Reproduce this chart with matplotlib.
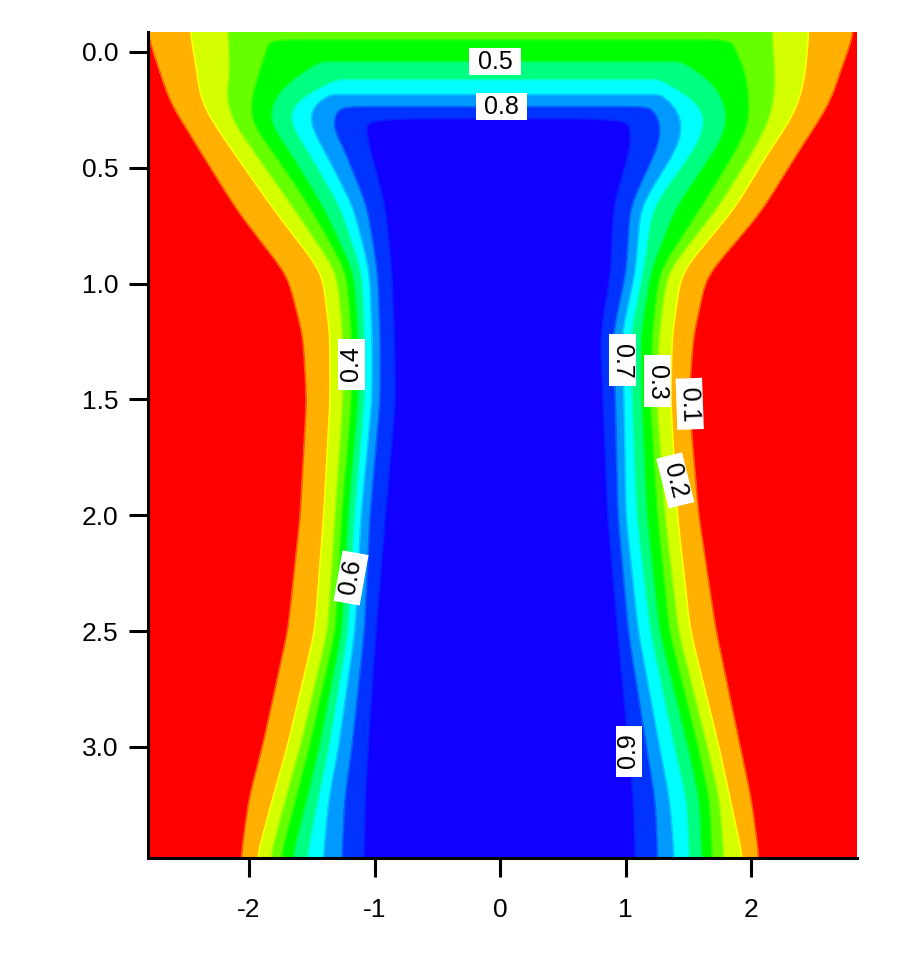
import numpy as np
import matplotlib
matplotlib.use('Agg')
import matplotlib.pyplot as plt

plt.rcParams['font.family'] = ['Liberation Sans', 'DejaVu Sans']
plt.rcParams['axes.unicode_minus'] = False

# contour levels and the fill colour of each band (below 0.1 ... above 0.9)
levels = [0.1, 0.2, 0.3, 0.4, 0.5, 0.6, 0.7, 0.8, 0.9]
band_colors = ['#ff0000', '#ffb000', '#d4ff00', '#66ff00', '#00ff00',
               '#00ff80', '#00ffff', '#0099ff', '#0033ff', '#1000ff']
line_colors = ['#ff5a00', '#ffff00', '#a0ff00', '#33ff00', '#00ff40',
               '#00ffc0', '#00ccff', '#0066ff', '#0820ff']

depths = [-0.09, 0.1, 0.2, 0.3, 0.4, 0.67, 0.95, 1.22, 1.5, 2.0, 2.5, 3.0, 3.23, 3.48]

# x of each level (0.1 ... 0.9) on the left flank, one row per depth
left_edges = [
    [-2.79, -2.47, -2.17, -1.82, -0.96, -0.80, -0.72, -0.64, -0.56],
    [-2.67, -2.41, -2.15, -1.93, -1.63, -1.12, -1.00, -0.89, -0.80],
    [-2.61, -2.39, -2.19, -1.98, -1.81, -1.65, -1.50, -1.24, -0.96],
    [-2.49, -2.29, -2.13, -1.99, -1.85, -1.69, -1.53, -1.37, -1.10],
    [-2.38, -2.16, -2.00, -1.85, -1.71, -1.56, -1.43, -1.26, -1.06],
    [-2.07, -1.81, -1.65, -1.51, -1.41, -1.27, -1.17, -1.06, -0.93],
    [-1.67, -1.41, -1.30, -1.22, -1.17, -1.10, -1.04, -0.98, -0.88],
    [-1.54, -1.35, -1.25, -1.18, -1.13, -1.08, -1.02, -0.96, -0.86],
    [-1.51, -1.35, -1.25, -1.18, -1.13, -1.08, -1.02, -0.96, -0.85],
    [-1.56, -1.40, -1.31, -1.26, -1.21, -1.16, -1.11, -1.04, -0.93],
    [-1.66, -1.47, -1.37, -1.31, -1.26, -1.21, -1.16, -1.08, -1.01],
    [-1.86, -1.69, -1.59, -1.52, -1.44, -1.36, -1.29, -1.18, -1.07],
    [-1.97, -1.81, -1.71, -1.63, -1.54, -1.45, -1.37, -1.24, -1.09],
    [-2.03, -1.94, -1.83, -1.75, -1.66, -1.54, -1.41, -1.26, -1.10],
]

# same for the right flank
right_edges = [
    [2.80, 2.46, 2.17, 1.82, 0.96, 0.80, 0.72, 0.64, 0.56],
    [2.67, 2.43, 2.19, 1.97, 1.65, 1.12, 1.00, 0.89, 0.80],
    [2.61, 2.39, 2.19, 1.98, 1.78, 1.57, 1.37, 1.16, 0.92],
    [2.49, 2.31, 2.14, 1.99, 1.82, 1.65, 1.46, 1.30, 1.05],
    [2.37, 2.17, 2.05, 1.91, 1.74, 1.57, 1.43, 1.27, 1.06],
    [2.06, 1.87, 1.74, 1.61, 1.40, 1.21, 1.12, 1.04, 0.92],
    [1.62, 1.44, 1.33, 1.27, 1.20, 1.14, 1.08, 1.01, 0.90],
    [1.51, 1.37, 1.26, 1.22, 1.12, 1.04, 0.97, 0.90, 0.82],
    [1.47, 1.36, 1.24, 1.20, 1.13, 1.05, 0.99, 0.92, 0.84],
    [1.55, 1.41, 1.31, 1.26, 1.17, 1.09, 1.00, 0.94, 0.88],
    [1.69, 1.51, 1.42, 1.35, 1.27, 1.20, 1.10, 1.02, 0.96],
    [1.88, 1.74, 1.65, 1.58, 1.50, 1.39, 1.27, 1.17, 1.04],
    [1.97, 1.83, 1.75, 1.67, 1.59, 1.49, 1.35, 1.24, 1.08],
    [2.03, 1.94, 1.78, 1.69, 1.61, 1.51, 1.39, 1.26, 1.09],
]

# value along the centre line near the top (where the inner contours close)
center_depth = [-0.09, -0.05, 0.043, 0.121, 0.186, 0.237, 0.285, 0.35]
center_val = [0.37, 0.40, 0.50, 0.60, 0.70, 0.80, 0.90, 1.00]

yticks = [0.0, 0.5, 1.0, 1.5, 2.0, 2.5, 3.0]
xticks = [-2, -1, 0, 1, 2]


def gauss(s):
    r = int(3 * s)
    k = np.exp(-0.5 * (np.arange(-r, r + 1) / s) ** 2)
    return k / k.sum(), r


def blur(z, sx, sy):
    for axis, s in ((1, sx), (0, sy)):
        k, r = gauss(s)
        pad = [(r, r) if a == axis else (0, 0) for a in range(2)]
        zp = np.pad(z, pad, mode='edge')
        z = np.apply_along_axis(lambda v: np.convolve(v, k, mode='valid'), axis, zp)
    return z


# crossing positions for every grid row, eased along the depth
xs = np.linspace(-2.805, 2.845, 800)
ys = np.linspace(-0.09, 3.48, 700)
L = np.array(left_edges)
R = np.array(right_edges)
LX = np.column_stack([np.interp(ys, depths, L[:, k]) for k in range(len(levels))])
RX = np.column_stack([np.interp(ys, depths, R[:, k]) for k in range(len(levels))])
LX = blur(LX, 0.01, 9)
RX = blur(RX, 0.01, 9)

lv = np.array(levels)
field = np.empty((len(ys), len(xs)))
for i, y in enumerate(ys):
    lx, rx = LX[i], RX[i]
    px = np.concatenate([[-10], lx, [(lx[-1] + rx[-1]) / 2], rx[::-1], [10]])
    pv = np.concatenate([[0], lv, [1.0], lv[::-1], [0]])
    row = np.interp(xs, px, pv)
    field[i] = np.minimum(row, np.interp(y, center_depth, center_val))

field = blur(field, 3.0, 4.0)

fig = plt.figure(figsize=(9.2, 9.6), dpi=100)
ax = fig.add_axes([0.1609, 0.10625, 0.7707, 0.8604])

ax.contourf(xs, ys, field, levels=[-1] + levels + [2], colors=band_colors)
line_sets = {}
for lev, col in zip(levels, line_colors):
    line_sets[lev] = ax.contour(xs, ys, field, levels=[lev], colors=[col], linewidths=1.2)

# contour labels: level, rough spot, rotation
label_spots = [(0.5, (-0.04, 0.04), 0), (0.8, (0.01, 0.22), 0),
               (0.4, (-1.16, 1.35), 90), (0.6, (-1.22, 2.27), 80),
               (0.7, (0.97, 1.33), -90), (0.3, (1.22, 1.42), -90),
               (0.1, (1.47, 1.52), -88), (0.2, (1.39, 1.85), -76),
               (0.9, (1.05, 3.02), 90)]
for lev, pos, rot in label_spots:
    texts = line_sets[lev].clabel(manual=[pos], inline=False,
                                  fmt=lambda v: ' %.1f ' % v, fontsize=18, colors='k')
    t = texts[-1]
    t.set_rotation(rot)
    t.set_bbox(dict(boxstyle='square,pad=0.05', facecolor='white', edgecolor='none'))
    t.set_zorder(5)

ax.set_xlim(-2.805, 2.845)
ax.set_ylim(3.48, -0.086)
ax.set_xticks(xticks)
ax.set_xticklabels([str(v) for v in xticks])
ax.set_yticks(yticks)
ax.set_yticklabels(['%.1f' % v for v in yticks])

for side in ['top', 'right']:
    ax.spines[side].set_visible(False)
for side in ['left', 'bottom']:
    ax.spines[side].set_linewidth(2.2)
ax.tick_params(direction='out', length=13.5, width=2.2, labelsize=19, pad=8)
ax.tick_params(axis='x', pad=15)

plt.savefig('out.png', dpi=100)
